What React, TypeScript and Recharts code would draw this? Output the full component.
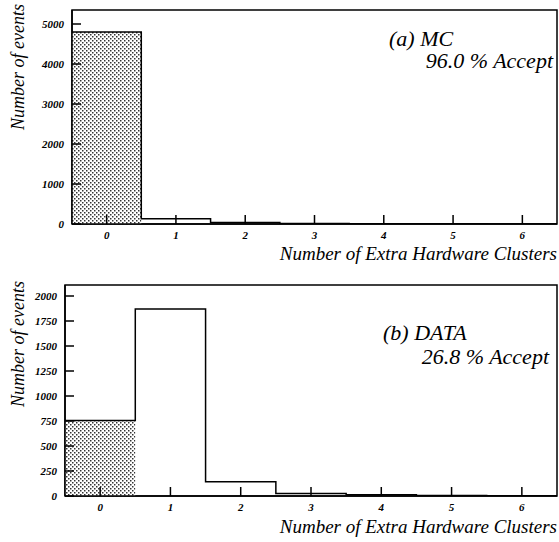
import React from "react";
import {
	ComposedChart,
	Area,
	Line,
	XAxis,
	YAxis,
	ReferenceArea,
} from "recharts";

// bins = number of extra hardware clusters
const bins = [0, 1, 2, 3, 4, 5, 6];

// (a) MC
const mcCounts = [4800, 130, 40, 15, 8, 5, 2];
const mcAccepted = [4800, 0, 0, 0, 0, 0, 0];
const mcYTicks = [0, 1000, 2000, 3000, 4000, 5000];

// (b) DATA
const dataCounts = [755, 1870, 143, 25, 12, 5, 2];
const dataAccepted = [755, 0, 0, 0, 0, 0, 0];
const dataYTicks = [0, 250, 500, 750, 1000, 1250, 1500, 1750, 2000];

const SERIF = "'Liberation Serif', 'Times New Roman', 'DejaVu Serif', serif";
const X_MIN = -0.5;
const X_MAX = 6.5;
const MAJOR = 9; // inward tick lengths
const MINOR = 5;

// histogram edges for a stepAfter line
function toSteps(counts: number[], acc: number[]) {
	const rows = bins.map((b, i) => ({ x: b - 0.5, count: counts[i], acc: acc[i] }));
	const last = bins.length - 1;
	rows.push({ x: bins[last] + 0.5, count: counts[last], acc: acc[last] });
	return rows;
}

// minor x ticks every 0.2 (skipping the integers)
const xMinor: number[] = [];
for (let i = -2; i <= 32; i++) if (i % 5 !== 0) xMinor.push(Math.round(i * 2) / 10);

const XTick = (props: any) => {
	const { x, y, payload } = props;
	return (
		<text
			x={x}
			y={y + MAJOR + 15}
			textAnchor="middle"
			fontFamily={SERIF}
			fontStyle="italic"
			fontWeight="bold"
			fontSize={11}
			fill="#000"
		>
			{payload.value}
		</text>
	);
};

const YTick = (props: any) => {
	const { x, y, payload } = props;
	return (
		<text
			x={x - MAJOR - 8}
			y={y + 4}
			textAnchor="end"
			fontFamily={SERIF}
			fontStyle="italic"
			fontWeight="bold"
			fontSize={11}
			fill="#000"
		>
			{payload.value}
		</text>
	);
};

function Histo({
	counts,
	accepted,
	yMax,
	yTicks,
	yMinor,
	yWidth,
	top,
	height,
	id,
}: {
	counts: number[];
	accepted: number[];
	yMax: number;
	yTicks: number[];
	yMinor: number[];
	yWidth: number;
	top: number;
	height: number;
	id: string;
}) {
	const rows = toSteps(counts, accepted);
	return (
		<ComposedChart
			width={559}
			height={height}
			data={rows}
			margin={{ top: top, right: 2, bottom: 0, left: 0 }}
		>
			<defs>
				<pattern id={id} width={4} height={4} patternUnits="userSpaceOnUse">
					<rect width={4} height={4} fill="#fff" />
					<rect x={0} y={0} width={1.5} height={1.5} fill="#333" />
					<rect x={2} y={2} width={1.5} height={1.5} fill="#333" />
				</pattern>
			</defs>
			{/* minor tick axes, no labels */}
			<XAxis
				xAxisId="minor"
				type="number"
				domain={[X_MIN, X_MAX]}
				ticks={xMinor}
				interval={0}
				tick={false}
				tickSize={-MINOR}
				stroke="#000"
				axisLine={false}
				height={1}
			/>
			<YAxis
				yAxisId="minor"
				type="number"
				domain={[0, yMax]}
				ticks={yMinor}
				interval={0}
				tick={false}
				tickSize={-MINOR}
				stroke="#000"
				axisLine={false}
				width={1}
			/>
			<XAxis
				dataKey="x"
				type="number"
				domain={[X_MIN, X_MAX]}
				allowDataOverflow
				ticks={bins}
				interval={0}
				tick={<XTick />}
				tickSize={-MAJOR}
				tickMargin={0}
				stroke="#000"
				strokeWidth={1.5}
				height={20}
			/>
			<YAxis
				type="number"
				domain={[0, yMax]}
				allowDataOverflow
				ticks={yTicks}
				interval={0}
				tick={<YTick />}
				tickSize={-MAJOR}
				tickMargin={0}
				stroke="#000"
				strokeWidth={1.5}
				width={yWidth - 1}
			/>
			<ReferenceArea
				x1={X_MIN}
				x2={X_MAX}
				y1={0}
				y2={yMax}
				fill="none"
				fillOpacity={0}
				stroke="#000"
				strokeWidth={1.5}
			/>
			<Area
				dataKey="acc"
				type="stepAfter"
				fill={`url(#${id})`}
				fillOpacity={1}
				stroke="none"
				isAnimationActive={false}
			/>
			<Line
				dataKey="count"
				type="stepAfter"
				stroke="#000"
				strokeWidth={1.5}
				dot={false}
				activeDot={false}
				isAnimationActive={false}
			/>
		</ComposedChart>
	);
}

const txt: React.CSSProperties = {
	position: "absolute",
	fontFamily: SERIF,
	fontStyle: "italic",
	lineHeight: 0.8,
	whiteSpace: "nowrap",
	color: "#000",
};

const YTitle = ({ cx, cy }: { cx: number; cy: number }) => (
	<div
		style={{
			...txt,
			fontSize: 18,
			left: cx,
			top: cy,
			transform: "translate(-50%, -50%) rotate(-90deg)",
		}}
	>
		Number of events
	</div>
);

export default function App() {
	const dataMinor: number[] = [];
	for (let v = 50; v <= 2100; v += 50) if (v % 250 !== 0) dataMinor.push(v);
	return (
		<div
			style={{
				position: "absolute",
				left: 0,
				top: 0,
				width: 559,
				height: 542,
				background: "#fff",
				overflow: "hidden",
			}}
		>
			<div style={{ position: "absolute", left: 0, top: 0 }}>
				<Histo
					counts={mcCounts}
					accepted={mcAccepted}
					yMax={5350}
					yTicks={mcYTicks}
					yMinor={[]}
					yWidth={72}
					top={10}
					height={245}
					id="dotsA"
				/>
			</div>
			<div style={{ position: "absolute", left: 0, top: 270 }}>
				<Histo
					counts={dataCounts}
					accepted={dataAccepted}
					yMax={2110}
					yTicks={dataYTicks}
					yMinor={dataMinor}
					yWidth={65}
					top={15}
					height={247}
					id="dotsB"
				/>
			</div>

			<YTitle cx={18} cy={67} />
			<YTitle cx={18} cy={344} />

			<div style={{ ...txt, fontSize: 22, left: 389, top: 30 }}>(a) MC</div>
			<div style={{ ...txt, fontSize: 22, right: 6, top: 52 }}>96.0 % Accept</div>
			<div style={{ ...txt, fontSize: 22, left: 383, top: 324 }}>(b) DATA</div>
			<div style={{ ...txt, fontSize: 22, right: 10, top: 348 }}>26.8 % Accept</div>

			<div style={{ ...txt, fontSize: 19, right: 2, top: 246 }}>
				Number of Extra Hardware Clusters
			</div>
			<div style={{ ...txt, fontSize: 19, right: 2, top: 519 }}>
				Number of Extra Hardware Clusters
			</div>
		</div>
	);
}
